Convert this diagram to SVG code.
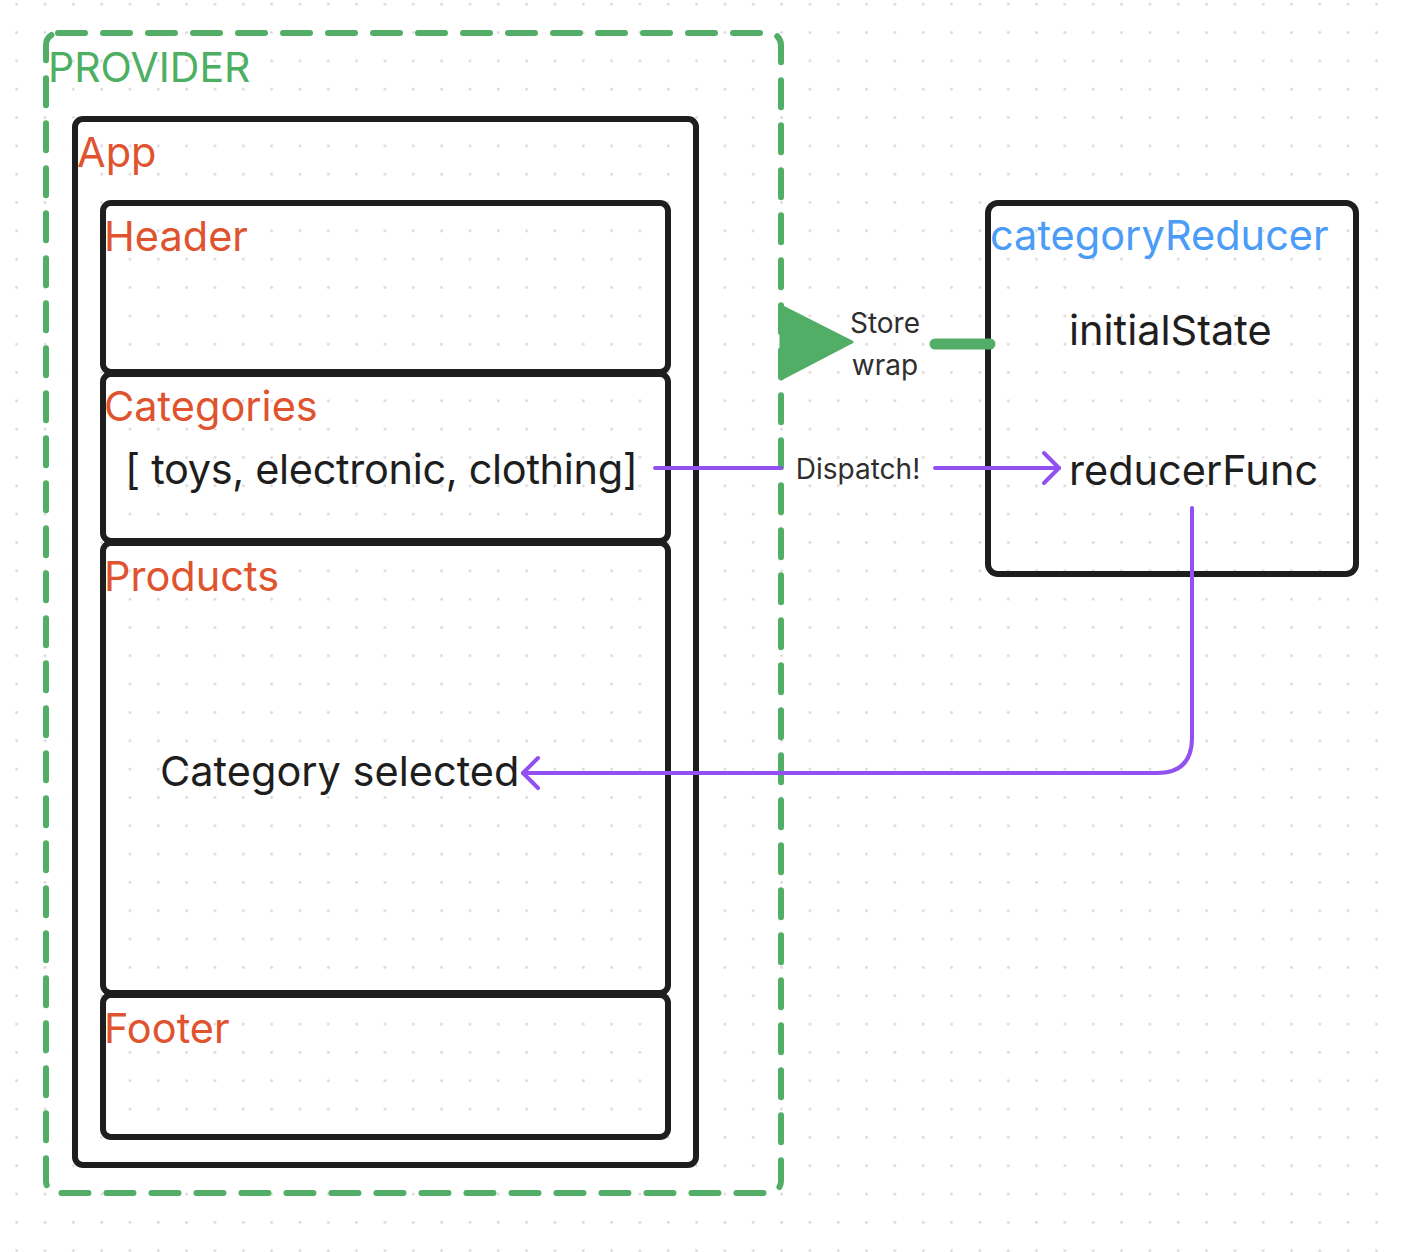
<svg xmlns="http://www.w3.org/2000/svg" width="1402" height="1252" viewBox="0 0 1402 1252">
<style>
.box{fill:none;stroke:#1e1e1e;stroke-width:6;}
.lbl{font-family:Inter,"Liberation Sans",sans-serif;font-size:41.5px;fill:#e0532f;}
.txt{font-family:Inter,"Liberation Sans",sans-serif;font-size:41.5px;fill:#1e1e1e;}
.small{font-family:Inter,"Liberation Sans",sans-serif;font-size:28px;fill:#2e2e2e;}
.purple{fill:none;stroke:#9150ef;stroke-width:4;stroke-linecap:round;stroke-linejoin:round;}
</style>
<defs>
<pattern id="dots" patternUnits="userSpaceOnUse" x="2.5" y="-9.9" width="28.33" height="28.33">
<circle cx="14.17" cy="14.17" r="1.4" fill="#d9d9d9"/>
</pattern>
</defs>
<rect width="1402" height="1252" fill="#ffffff"/>
<rect width="1402" height="1252" fill="url(#dots)"/>

<g id="provider">
<rect x="46" y="33" width="735" height="1160" rx="12" fill="none" stroke="#52ad66" stroke-width="6" stroke-dasharray="27 18" stroke-linecap="round"/>
<text x="48" y="82" font-family="Inter,'Liberation Sans',sans-serif" font-size="41" fill="#4caf62">PROVIDER</text>
</g>

<g id="app">
<rect class="box" x="75" y="119" width="621" height="1046" rx="8"/>
<text class="lbl" x="77" y="167">App</text>
</g>

<g id="header">
<rect class="box" x="103" y="203" width="565" height="169" rx="8"/>
<text class="lbl" x="104" y="251">Header</text>
</g>

<g id="categories">
<rect class="box" x="103" y="374" width="565" height="167" rx="8"/>
<text class="lbl" x="104" y="421">Categories</text>
<text class="txt" x="125" y="484" font-size="40.6" textLength="513" lengthAdjust="spacing">[ toys, electronic, clothing]</text>
</g>

<g id="products">
<rect class="box" x="103" y="543" width="565" height="450" rx="8"/>
<text class="lbl" x="104" y="591">Products</text>
<text class="txt" x="160" y="786">Category selected</text>
</g>

<g id="footer">
<rect class="box" x="103" y="995" width="565" height="142" rx="8"/>
<text class="lbl" x="104" y="1043">Footer</text>
</g>

<g id="categoryReducer">
<rect class="box" x="988" y="203" width="368" height="371" rx="10"/>
<text x="990" y="250" font-family="Inter,'Liberation Sans',sans-serif" font-size="41.5" fill="#4a9cf6">categoryReducer</text>
<text class="txt" x="1069" y="345">initialState</text>
<text class="txt" x="1069" y="485">reducerFunc</text>
</g>

<g id="connectors">
<line x1="935" y1="344" x2="990" y2="344" stroke="#52ad66" stroke-width="11" stroke-linecap="round"/>
<path d="M781,306 L852,342 L781,379 Z" fill="#52ad66" stroke="#52ad66" stroke-width="3" stroke-linejoin="round"/>
<text class="small" x="885" y="333" text-anchor="middle">Store</text>
<text class="small" x="885" y="375" text-anchor="middle">wrap</text>

<path class="purple" d="M655,468 L781,468"/>
<path class="purple" d="M935,468 L1059,468"/>
<path class="purple" d="M1044,453 L1059,468 L1044,483"/>
<text class="small" x="858" y="479" text-anchor="middle">Dispatch!</text>

<path class="purple" d="M1192,508 L1192,738 Q1192,773 1157,773 L523,773"/>
<path class="purple" d="M538,758 L523,773 L538,788"/>
</g>
</svg>
